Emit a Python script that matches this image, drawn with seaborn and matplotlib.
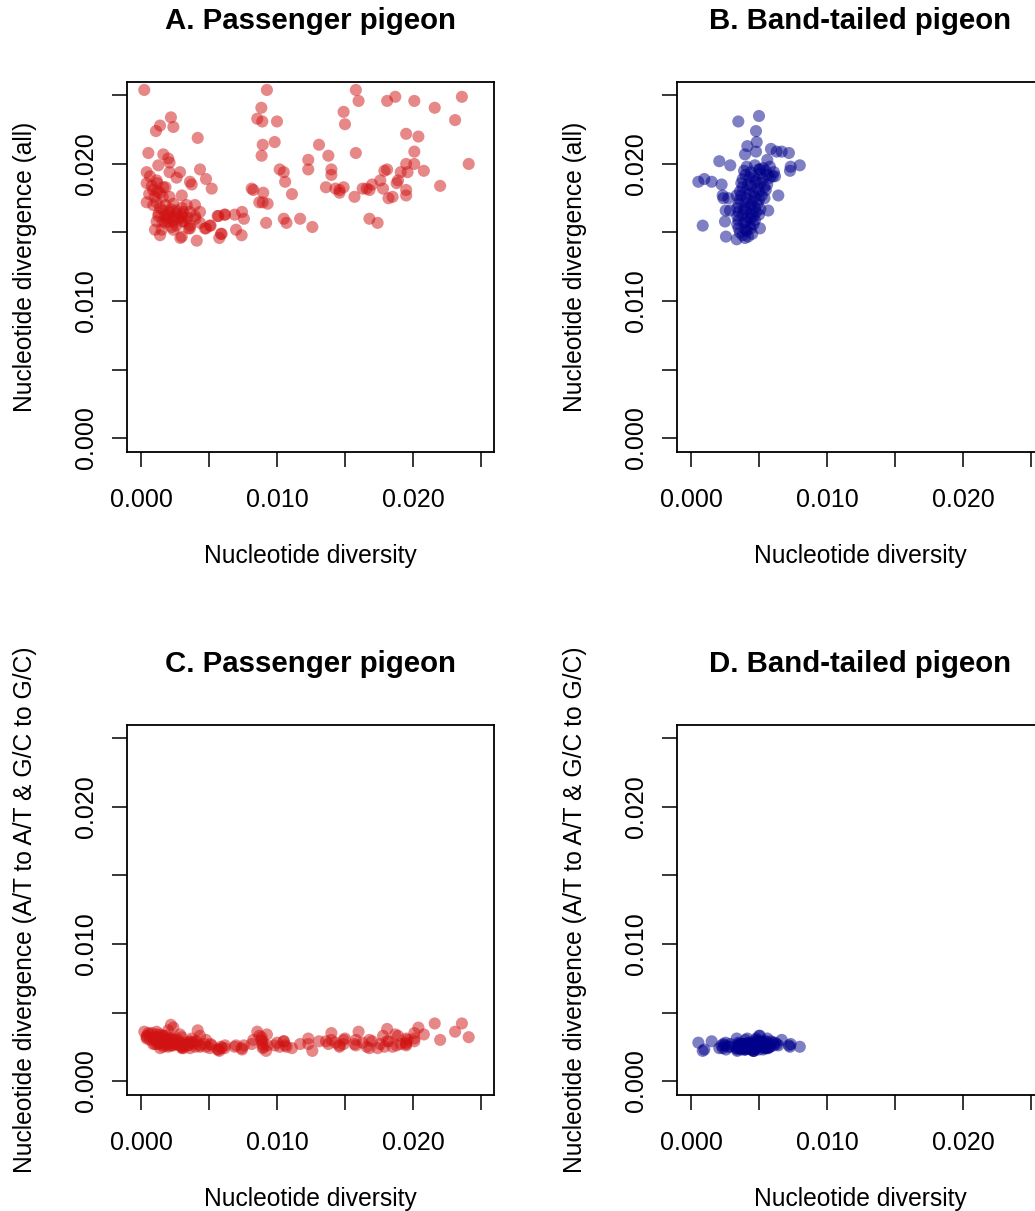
import matplotlib
matplotlib.use("Agg")
import matplotlib.pyplot as plt
import seaborn as sns
import pandas as pd

# ---------------- data ----------------
# Passenger pigeon: nucleotide diversity, divergence (all), divergence (A/T->A/T & G/C->G/C)
pp_div = [0.00024, 0.00926, 0.0158, 0.0160, 0.0181, 0.0187, 0.0201, 0.0216, 0.0236, 0.0231,
          0.00885, 0.00855, 0.00892, 0.0100, 0.0149, 0.0150, 0.0195, 0.0204, 0.0201, 0.00895,
          0.00887, 0.00983, 0.01309, 0.01378, 0.0158, 0.0123, 0.0123, 0.0241, 0.0195, 0.0201,
          0.0191, 0.0196, 0.0208, 0.0181, 0.0179, 0.0140, 0.0140, 0.0102, 0.0105, 0.0106,
          0.0220, 0.0189, 0.0188, 0.0176, 0.0170, 0.0178, 0.0166, 0.0163, 0.0168, 0.0136,
          0.0143, 0.0146, 0.0149, 0.0146, 0.0157, 0.0195, 0.0195, 0.0182, 0.0185, 0.0168,
          0.0174, 0.00814, 0.00826, 0.00899, 0.0087, 0.00895, 0.00931, 0.0111, 0.0092, 0.0105,
          0.0107, 0.0117, 0.0126, 0.00743, 0.00757, 0.00689, 0.00615, 0.00564, 0.00588, 0.00576,
          0.00699, 0.0074, 0.00512, 0.00478, 0.0041, 0.0035, 0.00289, 0.00417, 0.0022, 0.00238,
          0.0014, 0.0011, 0.00054, 0.00164, 0.0020, 0.0021, 0.00127, 0.00042, 0.0021, 0.00287,
          0.00434, 0.00262, 0.00478, 0.0036, 0.00373, 0.0052, 0.00042, 0.00066, 0.00115, 0.00164,
          0.0009, 0.0014, 0.0030, 0.0021, 0.00042, 0.00115, 0.00238, 0.00336, 0.00397, 0.00164,
          0.0021, 0.00262, 0.00311, 0.0036, 0.00434, 0.00127, 0.00189, 0.0025, 0.00311, 0.00397,
          0.00115, 0.00176, 0.00238, 0.0030, 0.0036, 0.00103, 0.00152, 0.00226, 0.0014, 0.00238,
          0.0030, 0.0036, 0.00434, 0.0047, 0.00507, 0.00569, 0.00618, 0.00593, 0.0008, 0.0012,
          0.0016, 0.0010, 0.0018, 0.0014, 0.0020, 0.0024, 0.0028, 0.0022, 0.0026, 0.0030,
          0.0018, 0.0016, 0.0032, 0.0034, 0.0006, 0.0009, 0.0012, 0.0018, 0.0020, 0.0026,
          0.0013, 0.0030, 0.0040]
pp_all = [0.0254, 0.0254, 0.0254, 0.0246, 0.0246, 0.0249, 0.0246, 0.0241, 0.0249, 0.0232,
          0.0241, 0.0233, 0.0231, 0.0231, 0.0238, 0.0229, 0.0222, 0.0220, 0.0209, 0.0214,
          0.0206, 0.0216, 0.0214, 0.0206, 0.0208, 0.0203, 0.0196, 0.0200, 0.0200, 0.0200,
          0.0194, 0.0194, 0.0195, 0.0196, 0.0195, 0.0196, 0.0192, 0.0196, 0.0194, 0.0187,
          0.0184, 0.0188, 0.0186, 0.0188, 0.0185, 0.0182, 0.0182, 0.0182, 0.0181, 0.0183,
          0.0182, 0.0181, 0.0183, 0.0179, 0.0176, 0.0181, 0.0177, 0.0175, 0.0176, 0.0160,
          0.0157, 0.0182, 0.0181, 0.0179, 0.0172, 0.0172, 0.0171, 0.0178, 0.0157, 0.0160,
          0.0157, 0.0160, 0.0154, 0.0165, 0.0160, 0.0163, 0.0163, 0.0162, 0.0149, 0.0146,
          0.0152, 0.0148, 0.0155, 0.0153, 0.0144, 0.0153, 0.0146, 0.0219, 0.0234, 0.0227,
          0.0228, 0.0224, 0.0208, 0.0207, 0.0204, 0.0201, 0.0199, 0.0194, 0.0194, 0.0194,
          0.0196, 0.0190, 0.0189, 0.0187, 0.0185, 0.0182, 0.0186, 0.0191, 0.0188, 0.0183,
          0.0181, 0.0179, 0.0177, 0.0176, 0.0172, 0.0172, 0.0171, 0.0170, 0.0170, 0.0166,
          0.0165, 0.0164, 0.0165, 0.0165, 0.0165, 0.0162, 0.0160, 0.0160, 0.0161, 0.0162,
          0.0158, 0.0157, 0.0158, 0.0158, 0.0155, 0.0152, 0.0152, 0.0154, 0.0148, 0.0152,
          0.0147, 0.0153, 0.0157, 0.0153, 0.0155, 0.0162, 0.0163, 0.0149, 0.0184, 0.0180,
          0.0176, 0.0176, 0.0170, 0.0168, 0.0163, 0.0162, 0.0160, 0.0167, 0.0166, 0.0163,
          0.0162, 0.0158, 0.0158, 0.0161, 0.0178, 0.0170, 0.0186, 0.0183, 0.0158, 0.0155,
          0.0164, 0.0168, 0.0160]
pp_atgc = [0.0036, 0.0034, 0.0030, 0.0036, 0.0038, 0.0034, 0.0031, 0.0042, 0.0042, 0.0036,
           0.0030, 0.0036, 0.0027, 0.0028, 0.0027, 0.0031, 0.0028, 0.0039, 0.0035, 0.0024,
           0.0032, 0.0026, 0.0029, 0.0027, 0.0026, 0.0031, 0.0027, 0.0032, 0.0026, 0.0029,
           0.0027, 0.0030, 0.0034, 0.0029, 0.0025, 0.0030, 0.0035, 0.0025, 0.0029, 0.0026,
           0.0030, 0.0033, 0.0026, 0.0027, 0.0029, 0.0033, 0.0025, 0.0028, 0.0024, 0.0029,
           0.0028, 0.0026, 0.0030, 0.0025, 0.0027, 0.0031, 0.0027, 0.0029, 0.0025, 0.0030,
           0.0024, 0.0027, 0.0030, 0.0025, 0.0033, 0.0029, 0.0026, 0.0024, 0.0022, 0.0029,
           0.0025, 0.0027, 0.0022, 0.0023, 0.0026, 0.0025, 0.0024, 0.0023, 0.0025, 0.0022,
           0.0026, 0.0024, 0.0027, 0.0025, 0.0029, 0.0026, 0.0028, 0.0037, 0.0041, 0.0039,
           0.0034, 0.0030, 0.0035, 0.0033, 0.0037, 0.0031, 0.0028, 0.0032, 0.0029, 0.0034,
           0.0033, 0.0027, 0.0030, 0.0028, 0.0031, 0.0026, 0.0033, 0.0030, 0.0036, 0.0031,
           0.0027, 0.0029, 0.0032, 0.0026, 0.0031, 0.0034, 0.0030, 0.0027, 0.0029, 0.0025,
           0.0028, 0.0031, 0.0026, 0.0028, 0.0025, 0.0029, 0.0027, 0.0030, 0.0024, 0.0027,
           0.0032, 0.0026, 0.0028, 0.0025, 0.0029, 0.0027, 0.0030, 0.0026, 0.0024, 0.0028,
           0.0026, 0.0024, 0.0026, 0.0027, 0.0024, 0.0023, 0.0026, 0.0024, 0.0035, 0.0032,
           0.0028, 0.0030, 0.0033, 0.0027, 0.0030, 0.0026, 0.0029, 0.0031, 0.0027, 0.0025,
           0.0029, 0.0033, 0.0028, 0.0026, 0.0034, 0.0031, 0.0027, 0.0030, 0.0025, 0.0027,
           0.0029, 0.0024, 0.0025]

# Band-tailed pigeon
bt_div = [0.00348, 0.0050, 0.00478, 0.00483, 0.00414, 0.00478, 0.00397, 0.00588, 0.0063, 0.00667,
          0.0072, 0.00561, 0.00208, 0.00289, 0.0080, 0.00733, 0.00728, 0.00054, 0.00098, 0.00152,
          0.00225, 0.00233, 0.00238, 0.00275, 0.00336, 0.00642, 0.00618, 0.00086, 0.00255, 0.00287,
          0.0025, 0.00257, 0.00336, 0.00397, 0.00507, 0.00568, 0.00507,
          0.0041, 0.0047, 0.0053, 0.0058,
          0.0039, 0.0044, 0.0050, 0.0055, 0.0061,
          0.0040, 0.0046, 0.0051, 0.0056, 0.0060,
          0.0038, 0.0043, 0.0048, 0.0053, 0.0058,
          0.0037, 0.0042, 0.0047, 0.0051, 0.0056,
          0.0038, 0.0044, 0.0049, 0.0054,
          0.0036, 0.0041, 0.0046, 0.0050, 0.0055,
          0.0037, 0.0043, 0.0047, 0.0052,
          0.0036, 0.0041, 0.0045, 0.0050, 0.0054,
          0.0035, 0.0040, 0.0044, 0.0049,
          0.0034, 0.0039, 0.0043, 0.0047, 0.0051,
          0.0035, 0.0040, 0.0044, 0.0048,
          0.0034, 0.0038, 0.0042, 0.0046, 0.0050,
          0.0035, 0.0040, 0.0044, 0.0047,
          0.0034, 0.0039, 0.0043, 0.0046,
          0.0035, 0.0040, 0.0044,
          0.0036, 0.0041, 0.0045,
          0.0038, 0.0042]
bt_all = [0.0231, 0.0235, 0.0224, 0.0216, 0.0213, 0.0209, 0.0207, 0.0211, 0.0209, 0.0209,
          0.0208, 0.0203, 0.0202, 0.0199, 0.0199, 0.0198, 0.0195, 0.0187, 0.0189, 0.0187,
          0.0185, 0.0177, 0.0175, 0.0175, 0.0177, 0.0177, 0.0191, 0.0155, 0.0166, 0.0166,
          0.0158, 0.0147, 0.0145, 0.0146, 0.0153, 0.0166, 0.0196,
          0.0198, 0.0199, 0.0197, 0.0198,
          0.0195, 0.0194, 0.0196, 0.0195, 0.0194,
          0.0192, 0.0191, 0.0193, 0.0192, 0.0191,
          0.0189, 0.0190, 0.0188, 0.0189, 0.0190,
          0.0186, 0.0185, 0.0187, 0.0186, 0.0185,
          0.0183, 0.0184, 0.0182, 0.0183,
          0.0180, 0.0181, 0.0179, 0.0180, 0.0181,
          0.0177, 0.0178, 0.0176, 0.0177,
          0.0174, 0.0175, 0.0173, 0.0174, 0.0175,
          0.0171, 0.0172, 0.0170, 0.0171,
          0.0168, 0.0167, 0.0169, 0.0168, 0.0167,
          0.0165, 0.0166, 0.0164, 0.0165,
          0.0162, 0.0163, 0.0161, 0.0162, 0.0163,
          0.0159, 0.0158, 0.0160, 0.0159,
          0.0156, 0.0157, 0.0155, 0.0156,
          0.0153, 0.0152, 0.0153,
          0.0150, 0.0151, 0.0149,
          0.0148, 0.0147]
bt_atgc = [0.0028, 0.0033, 0.0030, 0.0027, 0.0031, 0.0028, 0.0026, 0.0029, 0.0027, 0.0030,
           0.0026, 0.0031, 0.0024, 0.0027, 0.0025, 0.0027, 0.0025, 0.0028, 0.0023, 0.0029,
           0.0026, 0.0024, 0.0027, 0.0025, 0.0031, 0.0026, 0.0028, 0.0022, 0.0028, 0.0025,
           0.0026, 0.0023, 0.0024, 0.0027, 0.0029, 0.0024, 0.0033,
           0.0026, 0.0024, 0.0028, 0.0025,
           0.0023, 0.0027, 0.0025, 0.0029, 0.0026,
           0.0025, 0.0022, 0.0027, 0.0024, 0.0028,
           0.0027, 0.0024, 0.0026, 0.0023, 0.0025,
           0.0024, 0.0028, 0.0023, 0.0026, 0.0027,
           0.0026, 0.0023, 0.0029, 0.0024,
           0.0025, 0.0027, 0.0022, 0.0026, 0.0024,
           0.0023, 0.0026, 0.0028, 0.0025,
           0.0027, 0.0024, 0.0026, 0.0023, 0.0029,
           0.0025, 0.0030, 0.0024, 0.0026,
           0.0022, 0.0025, 0.0027, 0.0024, 0.0028,
           0.0026, 0.0023, 0.0025, 0.0031,
           0.0024, 0.0027, 0.0025, 0.0022, 0.0026,
           0.0027, 0.0024, 0.0028, 0.0025,
           0.0023, 0.0026, 0.0024, 0.0027,
           0.0025, 0.0023, 0.0026,
           0.0024, 0.0027, 0.0023,
           0.0025, 0.0024]

ticks = [0.000, 0.005, 0.010, 0.015, 0.020, 0.025]
tick_labels = ["0.000", "", "0.010", "", "0.020", ""]

titles = ["A. Passenger pigeon", "B. Band-tailed pigeon",
          "C. Passenger pigeon", "D. Band-tailed pigeon"]
ylabels = ["Nucleotide divergence (all)", "Nucleotide divergence (all)",
           "Nucleotide divergence (A/T to A/T & G/C to G/C)",
           "Nucleotide divergence (A/T to A/T & G/C to G/C)"]
xlabel = "Nucleotide diversity"

RED = (0.82, 0.07, 0.07)
BLUE = (0.0, 0.0, 0.545)

# ---------------- figure ----------------
sns.set_theme(style="white")
plt.rcParams["font.family"] = ["Liberation Sans", "DejaVu Sans"]

W, H = 1035, 1211
fig = plt.figure(figsize=(W / 100, H / 100), dpi=100)

ax_w = 367 / W
ax_h = 370 / H
lefts = [127 / W, 677 / W]
bottoms = [(H - 452) / H, (H - 1095) / H]

frames = [
    pd.DataFrame({"x": pp_div, "y": pp_all}),
    pd.DataFrame({"x": bt_div, "y": bt_all}),
    pd.DataFrame({"x": pp_div, "y": pp_atgc}),
    pd.DataFrame({"x": bt_div, "y": bt_atgc}),
]
colors = [RED, BLUE, RED, BLUE]

for i in range(4):
    col, row = i % 2, i // 2
    ax = fig.add_axes([lefts[col], bottoms[row], ax_w, ax_h])
    sns.scatterplot(data=frames[i], x="x", y="y", ax=ax, color=colors[i],
                    alpha=0.5, s=76, edgecolor="none", linewidth=0, legend=False)
    ax.set_xlim(-0.00103, 0.02596)
    ax.set_ylim(-0.00102, 0.02598)
    ax.set_xticks(ticks)
    ax.set_xticklabels(tick_labels)
    ax.set_yticks(ticks)
    ax.set_yticklabels(tick_labels, rotation=90, va="center")
    ax.tick_params(axis="both", direction="out", length=10.8, width=1.1,
                   colors="black", labelsize=18, bottom=True, left=True)
    ax.tick_params(axis="x", pad=15)
    ax.tick_params(axis="y", pad=10)
    for sp in ax.spines.values():
        sp.set_visible(True)
        sp.set_color("black")
        sp.set_linewidth(1.3)
    ax.set_xlabel(xlabel, fontsize=17.7, color="black")
    ax.set_ylabel(ylabels[i], fontsize=17.7, color="black")
    ax.xaxis.set_label_coords(0.5, -104 / 370)
    ax.xaxis.label.set_va("center")
    ax.yaxis.set_label_coords(-102 / 367, 0.5)
    ax.yaxis.label.set_va("center")
    ax.text(0.5, 1 + 61 / 370, titles[i], transform=ax.transAxes,
            ha="center", va="center", fontsize=21.2, fontweight="bold", color="black")
    ax.grid(False)

fig.savefig("out.png", dpi=100)
